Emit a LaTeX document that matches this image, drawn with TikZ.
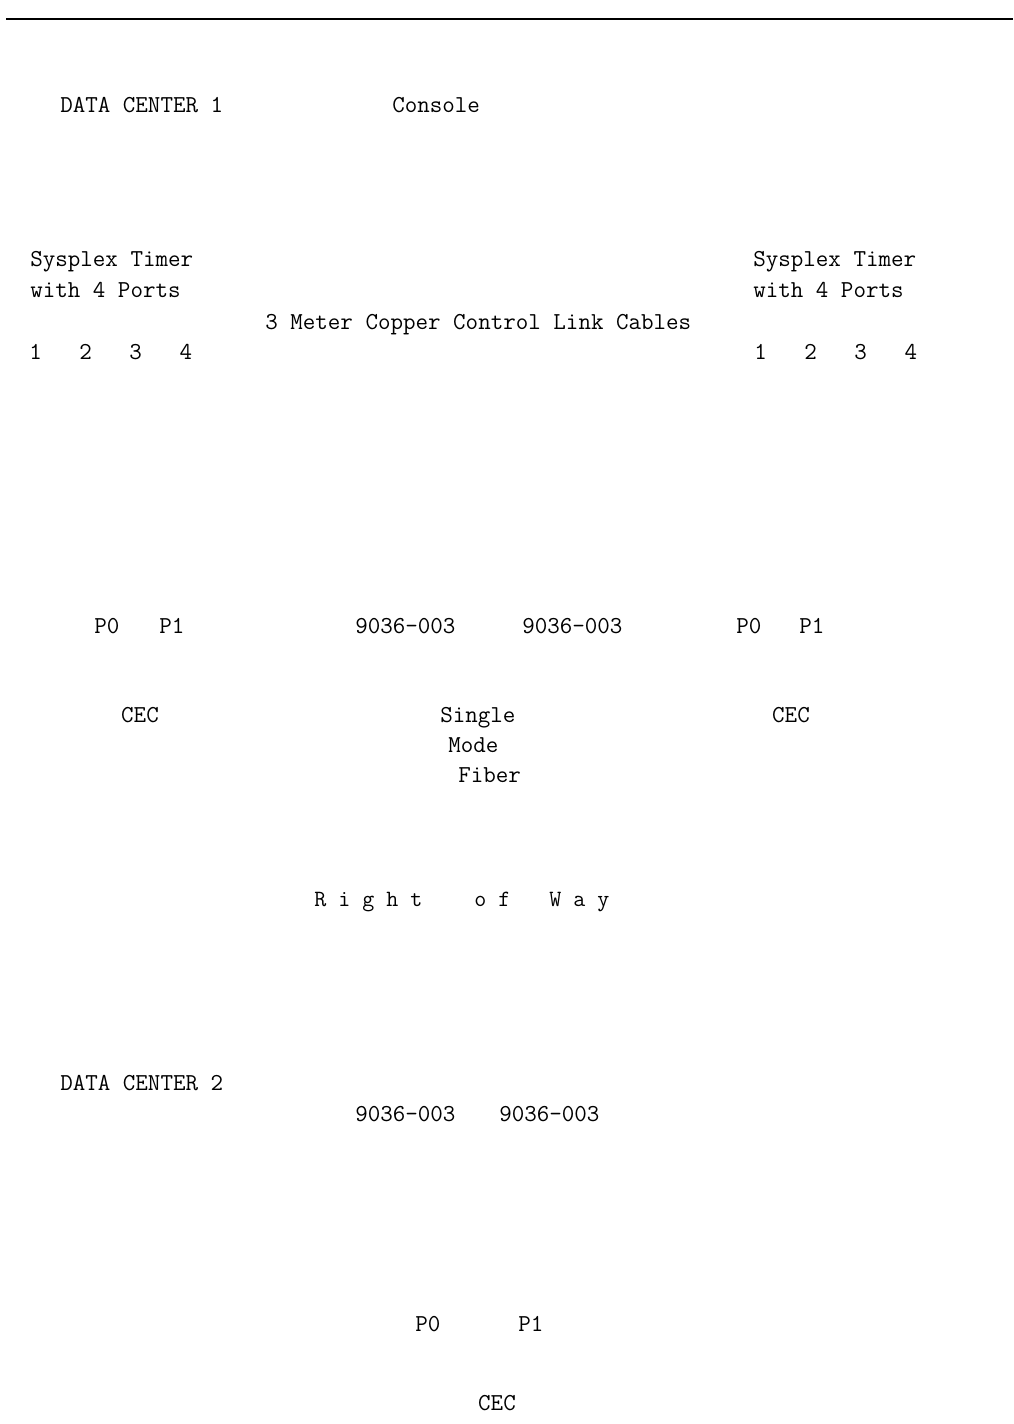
\documentclass[tikz,border=0pt]{standalone}
\usepackage{fontspec}
\newcommand{\lblfont}{\ttfamily\fontsize{17.3}{20}\selectfont}
\newcommand{\rowfont}{\ttfamily\fontsize{16.6}{20}\selectfont}
\tikzset{
  lbl/.style={anchor=base west, inner sep=0pt, font=\lblfont},
  lblc/.style={anchor=base, inner sep=0pt, font=\lblfont},
  rowlbl/.style={anchor=base west, inner sep=0pt, font=\rowfont}
}
\begin{document}
\begin{tikzpicture}[x=0.025cm,y=-0.025cm]

\useasboundingbox (0,0) rectangle (1013,1424);

% Trait du haut
\coordinate (hg) at (6,19);
\coordinate (hd) at (1013,19);
\draw[line width=1.2pt] (hg) -- (hd);

% Centre 1
\node[lbl] (dc1) at (60,113) {DATA CENTER 1};
\node[lbl] (cons) at (392,113) {Console};

\node[lbl] (timg1) at (30,267) {Sysplex Timer};
\node[lbl] (timg2) at (30,298) {with 4 Ports};
\node[lbl] (timd1) at (753,267) {Sysplex Timer};
\node[lbl] (timd2) at (753,298) {with 4 Ports};

\node[lbl] (cables) at (265,329) {3 Meter Copper Control Link Cables};

\node[lbl] (portsg) at (29,359) {1\ \ \ 2\ \ \ 3\ \ \ 4};
\node[lbl] (portsd) at (754,359) {1\ \ \ 2\ \ \ 3\ \ \ 4};

\node[lbl] (p0g) at (94,633) {P0};
\node[lbl] (p1g) at (159,633) {P1};
\node[lbl] (cvg) at (355,633) {9036-003};
\node[lbl] (cvd) at (522,633) {9036-003};
\node[lbl] (p0d) at (736,633) {P0};
\node[lbl] (p1d) at (799,633) {P1};

\node[lblc] (cecg) at (140,722) {CEC};
\node[lblc] (cecd) at (791,722) {CEC};

\node[lbl] (single) at (440,722) {Single};
\node[lbl] (mode) at (448,752) {Mode};
\node[lbl] (fiber) at (458,782) {Fiber};

% Droit de passage
\node[rowlbl] (row1) at (314,906) {R\ i\ g\ h\ t};
\node[rowlbl] (row2) at (474,906) {o\ f};
\node[rowlbl] (row3) at (549,906) {W\ a\ y};

% Centre 2
\node[lbl] (dc2) at (60,1090) {DATA CENTER 2};
\node[lbl] (cv2g) at (355,1121) {9036-003};
\node[lbl] (cv2d) at (499,1121) {9036-003};

\node[lbl] (p02) at (415,1331) {P0};
\node[lbl] (p12) at (518,1331) {P1};
\node[lblc] (cec2) at (497,1410) {CEC};

\end{tikzpicture}
\end{document}
